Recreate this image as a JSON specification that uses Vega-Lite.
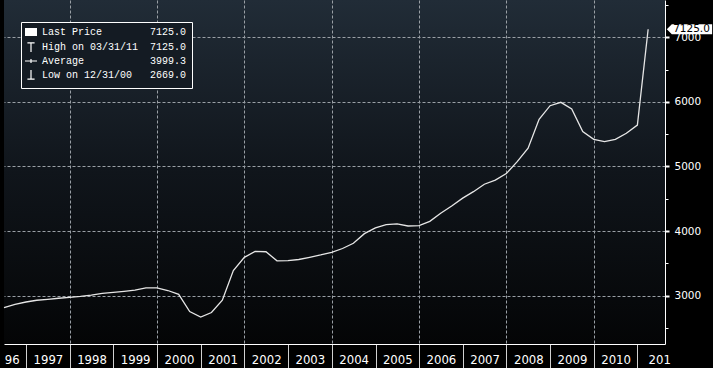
{
  "$schema": "https://vega.github.io/schema/vega-lite/v6.json",
  "width": 661,
  "height": 344,
  "autosize": {"type": "none"},
  "padding": {"left": 4, "top": 0, "right": 48, "bottom": 24},
  "background": "#000000",
  "config": {
    "view": {
      "stroke": null,
      "fill": {"gradient": "linear", "x1": 0, "y1": 0, "x2": 0, "y2": 1,
        "stops": [{"offset": 0, "color": "#212c37"}, {"offset": 0.5, "color": "#10151b"}, {"offset": 1, "color": "#040506"}]}
    },
    "axis": {"title": null}
  },
  "layer": [
    {
      "data": {"values": [
        {"date": "1996-06-30", "price": 2814},
        {"date": "1996-09-30", "price": 2867},
        {"date": "1996-12-31", "price": 2902},
        {"date": "1997-03-31", "price": 2929},
        {"date": "1997-06-30", "price": 2944},
        {"date": "1997-09-30", "price": 2960},
        {"date": "1997-12-31", "price": 2975},
        {"date": "1998-03-31", "price": 2988},
        {"date": "1998-06-30", "price": 3008},
        {"date": "1998-09-30", "price": 3037},
        {"date": "1998-12-31", "price": 3050},
        {"date": "1999-03-31", "price": 3066},
        {"date": "1999-06-30", "price": 3085},
        {"date": "1999-09-30", "price": 3120},
        {"date": "1999-12-31", "price": 3120},
        {"date": "2000-03-31", "price": 3080},
        {"date": "2000-06-30", "price": 3020},
        {"date": "2000-09-30", "price": 2755},
        {"date": "2000-12-31", "price": 2669},
        {"date": "2001-03-31", "price": 2740},
        {"date": "2001-06-30", "price": 2930},
        {"date": "2001-09-30", "price": 3390},
        {"date": "2001-12-31", "price": 3594},
        {"date": "2002-03-31", "price": 3685},
        {"date": "2002-06-30", "price": 3680},
        {"date": "2002-09-30", "price": 3540},
        {"date": "2002-12-31", "price": 3542},
        {"date": "2003-03-31", "price": 3560},
        {"date": "2003-06-30", "price": 3594},
        {"date": "2003-09-30", "price": 3630},
        {"date": "2003-12-31", "price": 3672},
        {"date": "2004-03-31", "price": 3730},
        {"date": "2004-06-30", "price": 3811},
        {"date": "2004-09-30", "price": 3960},
        {"date": "2004-12-31", "price": 4050},
        {"date": "2005-03-31", "price": 4099},
        {"date": "2005-06-30", "price": 4110},
        {"date": "2005-09-30", "price": 4079},
        {"date": "2005-12-31", "price": 4083},
        {"date": "2006-03-31", "price": 4150},
        {"date": "2006-06-30", "price": 4275},
        {"date": "2006-09-30", "price": 4389},
        {"date": "2006-12-31", "price": 4510},
        {"date": "2007-03-31", "price": 4610},
        {"date": "2007-06-30", "price": 4725},
        {"date": "2007-09-30", "price": 4790},
        {"date": "2007-12-31", "price": 4890},
        {"date": "2008-03-31", "price": 5075},
        {"date": "2008-06-30", "price": 5282},
        {"date": "2008-09-30", "price": 5731},
        {"date": "2008-12-31", "price": 5941},
        {"date": "2009-03-31", "price": 5993},
        {"date": "2009-06-30", "price": 5890},
        {"date": "2009-09-30", "price": 5539},
        {"date": "2009-12-31", "price": 5421},
        {"date": "2010-03-31", "price": 5384},
        {"date": "2010-06-30", "price": 5421},
        {"date": "2010-09-30", "price": 5514},
        {"date": "2010-12-31", "price": 5640},
        {"date": "2011-03-31", "price": 7125}
      ]},
      "mark": {"type": "line", "color": "#e6e6e6", "strokeWidth": 1.3},
      "encoding": {
        "x": {
          "field": "date", "type": "temporal",
          "scale": {"type": "utc", "domain": [{"year": 1996, "month": 6, "date": 30, "utc": true}, {"year": 2011, "month": 8, "date": 19, "utc": true}]},
          "axis": {
            "orient": "bottom",
            "values": [
              {"year": 1997, "month": 1, "date": 1, "utc": true},
              {"year": 1998, "month": 1, "date": 1, "utc": true},
              {"year": 1999, "month": 1, "date": 1, "utc": true},
              {"year": 2000, "month": 1, "date": 1, "utc": true},
              {"year": 2001, "month": 1, "date": 1, "utc": true},
              {"year": 2002, "month": 1, "date": 1, "utc": true},
              {"year": 2003, "month": 1, "date": 1, "utc": true},
              {"year": 2004, "month": 1, "date": 1, "utc": true},
              {"year": 2005, "month": 1, "date": 1, "utc": true},
              {"year": 2006, "month": 1, "date": 1, "utc": true},
              {"year": 2007, "month": 1, "date": 1, "utc": true},
              {"year": 2008, "month": 1, "date": 1, "utc": true},
              {"year": 2009, "month": 1, "date": 1, "utc": true},
              {"year": 2010, "month": 1, "date": 1, "utc": true},
              {"year": 2011, "month": 1, "date": 1, "utc": true}
            ],
            "labels": false, "grid": false,
            "ticks": true, "tickSize": 24, "tickColor": "#d0d0d0", "tickWidth": 1,
            "domain": true, "domainColor": "#ffffff", "domainWidth": 1
          }
        },
        "y": {
          "field": "price", "type": "quantitative",
          "scale": {"domain": [2252, 7577], "nice": false, "zero": false},
          "axis": {
            "orient": "right",
            "values": [3000, 4000, 5000, 6000, 7000],
            "format": "d",
            "grid": true, "gridColor": "#9aa0a6", "gridDash": [3, 2], "gridWidth": 1,
            "domain": true, "domainColor": "#ffffff", "domainWidth": 1,
            "ticks": true, "tickColor": "#ffffff", "tickSize": 4, "tickWidth": 2,
            "labelColor": "#ffffff", "labelFont": "DejaVu Sans", "labelFontSize": 10.5,
            "labelPadding": 5, "labelAlign": "left", "labelBaseline": "middle"
          }
        }
      }
    },
    {
      "data": {"values": [
        {"series": "Last Price", "date": "2011-03-31", "price": 7125},
        {"series": "High on 03/31/11", "date": "2011-03-31", "price": 7125},
        {"series": "Average", "price": 3999.3},
        {"series": "Low on 12/31/00", "date": "2000-12-31", "price": 2669}
      ]},
      "mark": {"type": "point", "filled": true, "color": "#ffffff", "opacity": 0},
      "encoding": {
        "x": {
          "field": "date", "type": "temporal",
          "scale": {"type": "utc", "domain": [{"year": 1996, "month": 6, "date": 30, "utc": true}, {"year": 2011, "month": 8, "date": 19, "utc": true}]},
          "axis": {
            "orient": "bottom",
            "values": [
              {"year": 1996, "month": 7, "date": 2, "utc": true},
              {"year": 1997, "month": 7, "date": 2, "utc": true},
              {"year": 1998, "month": 7, "date": 2, "utc": true},
              {"year": 1999, "month": 7, "date": 2, "utc": true},
              {"year": 2000, "month": 7, "date": 2, "utc": true},
              {"year": 2001, "month": 7, "date": 2, "utc": true},
              {"year": 2002, "month": 7, "date": 2, "utc": true},
              {"year": 2003, "month": 7, "date": 2, "utc": true},
              {"year": 2004, "month": 7, "date": 2, "utc": true},
              {"year": 2005, "month": 7, "date": 2, "utc": true},
              {"year": 2006, "month": 7, "date": 2, "utc": true},
              {"year": 2007, "month": 7, "date": 2, "utc": true},
              {"year": 2008, "month": 7, "date": 2, "utc": true},
              {"year": 2009, "month": 7, "date": 2, "utc": true},
              {"year": 2010, "month": 7, "date": 2, "utc": true},
              {"year": 2011, "month": 7, "date": 2, "utc": true}
            ],
            "ticks": false, "tickSize": 0, "domain": false, "grid": false,
            "labelColor": "#ffffff",
            "labelFont": "DejaVu Sans Condensed, Liberation Sans Narrow, sans-serif",
            "labelFontSize": 13, "labelPadding": 15, "labelBaseline": "middle",
            "labelFlush": false, "labelOverlap": false, "labelBound": false,
            "labelExpr": "utcyear(datum.value) == 1996 ? '96' : (utcyear(datum.value) == 2011 ? '201' : '' + utcyear(datum.value))",
            "labelAlign": {"condition": {"test": "utcyear(datum.value) == 1996", "value": "left"}, "value": "center"}
          }
        },
        "y": {
          "field": "price", "type": "quantitative",
          "scale": {"domain": [2252, 7577], "nice": false, "zero": false},
          "axis": {
            "orient": "right",
            "values": [2500, 3500, 4500, 5500, 6500, 7500],
            "labels": false, "domain": false, "grid": false,
            "ticks": true, "tickSize": 3, "tickColor": "#ffffff", "tickWidth": 1
          }
        },
        "shape": {
          "field": "series", "type": "nominal",
          "scale": {
            "domain": ["Last Price", "High on 03/31/11", "Average", "Low on 12/31/00"],
            "range": [
              "M -1.5 -1 L 1.5 -1 L 1.5 1 L -1.5 1 Z",
              "M -0.9 -1.2 L 0.9 -1.2 L 0.9 -0.9 L -0.9 -0.9 Z M -0.15 -1.2 L 0.15 -1.2 L 0.15 1.27 L -0.15 1.27 Z",
              "M -1.5 -0.15 L 1.5 -0.15 L 1.5 0.15 L -1.5 0.15 Z M -0.15 -0.5 L 0.15 -0.5 L 0.15 0.5 L -0.15 0.5 Z",
              "M -0.15 -1.27 L 0.15 -1.27 L 0.15 1.2 L -0.15 1.2 Z M -0.9 0.9 L 0.9 0.9 L 0.9 1.2 L -0.9 1.2 Z"
            ]
          },
          "legend": {
            "orient": "none", "legendX": 17, "legendY": 22,
            "title": null,
            "fillColor": "#141b23", "strokeColor": "#ffffff",
            "padding": 5, "rowPadding": 0,
            "symbolSize": 64, "labelOffset": 6,
            "symbolFillColor": "#ffffff", "symbolStrokeColor": "#ffffff", "symbolOpacity": 1,
            "labelFont": "Liberation Mono", "labelFontSize": 10, "labelColor": "#ffffff",
            "labelExpr": "datum.label == 'Last Price' ? 'Last Price\u00a0\u00a0\u00a0\u00a0\u00a0\u00a0\u00a0\u00a07125.0' : (datum.label == 'Average' ? 'Average\u00a0\u00a0\u00a0\u00a0\u00a0\u00a0\u00a0\u00a0\u00a0\u00a0\u00a03999.3' : (datum.label == 'Low on 12/31/00' ? 'Low on 12/31/00\u00a0\u00a0\u00a02669.0' : 'High on 03/31/11\u00a0\u00a07125.0'))"
          }
        }
      }
    },
    {
      "data": {"values": [{"date": "2011-03-31", "price": 7125, "label": "7125.0"}]},
      "mark": {"type": "point", "filled": true, "color": "#ffffff", "opacity": 1, "size": 400,
        "shape": "M 1.87 0 L 2.37 -0.5 L 6.4 -0.5 L 6.4 0.5 L 2.37 0.5 Z"},
      "encoding": {
        "x": {
          "field": "date", "type": "temporal",
          "scale": {"type": "utc", "domain": [{"year": 1996, "month": 6, "date": 30, "utc": true}, {"year": 2011, "month": 8, "date": 19, "utc": true}]},
          "axis": {
            "orient": "bottom",
            "values": [
              {"year": 1998, "month": 1, "date": 1, "utc": true},
              {"year": 2000, "month": 1, "date": 1, "utc": true},
              {"year": 2002, "month": 1, "date": 1, "utc": true},
              {"year": 2004, "month": 1, "date": 1, "utc": true},
              {"year": 2006, "month": 1, "date": 1, "utc": true},
              {"year": 2008, "month": 1, "date": 1, "utc": true},
              {"year": 2010, "month": 1, "date": 1, "utc": true}
            ],
            "grid": true, "gridColor": "#9aa0a6", "gridDash": [3, 2], "gridWidth": 1,
            "ticks": false, "labels": false, "domain": false
          }
        },
        "y": {
          "field": "price", "type": "quantitative",
          "scale": {"domain": [2252, 7577], "nice": false, "zero": false},
          "axis": null
        }
      }
    },
    {
      "data": {"values": [{"date": "2011-03-31", "price": 7125, "label": "7125.0"}]},
      "mark": {"type": "text", "align": "left", "baseline": "middle", "dx": 25, "dy": 0,
        "font": "DejaVu Sans", "fontSize": 10.5, "color": "#000000"},
      "encoding": {
        "x": {
          "field": "date", "type": "temporal",
          "scale": {"type": "utc", "domain": [{"year": 1996, "month": 6, "date": 30, "utc": true}, {"year": 2011, "month": 8, "date": 19, "utc": true}]},
          "axis": null
        },
        "y": {
          "field": "price", "type": "quantitative",
          "scale": {"domain": [2252, 7577], "nice": false, "zero": false},
          "axis": null
        },
        "text": {"field": "label"}
      }
    }
  ],
  "resolve": {"axis": {"x": "independent", "y": "independent"}}
}
